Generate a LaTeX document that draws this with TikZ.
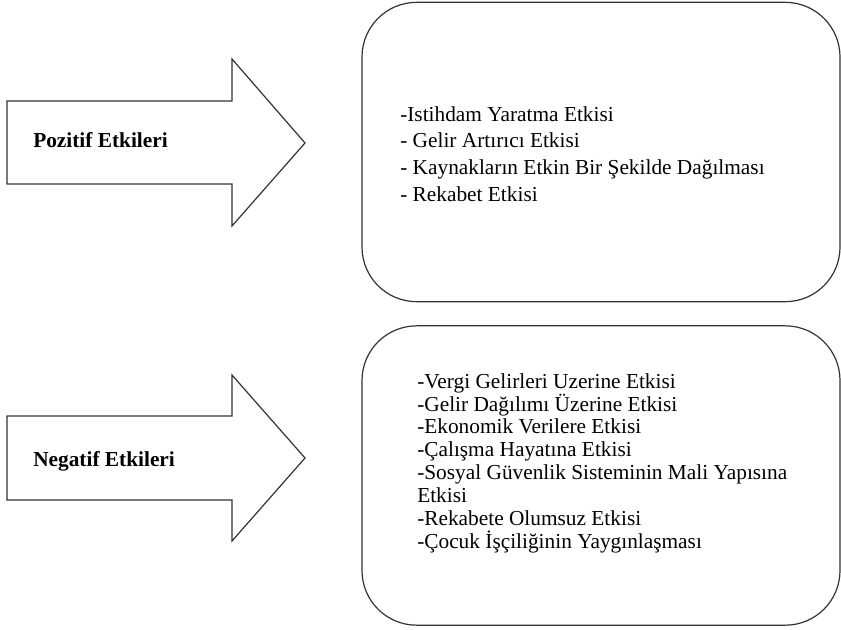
\documentclass[tikz,border=0pt]{standalone}
\usepackage{fontspec}
\setmainfont{Liberation Serif}
\usepackage{tikz}
\usetikzlibrary{arrows.meta,positioning}

\begin{document}
\begin{tikzpicture}[
  x=0.75pt, y=-0.75pt,
  box/.style={rectangle, rounded corners=41pt, draw=black!80, line width=0.9pt,
              minimum width=358.5pt, minimum height=224.5pt},
  bigarrow/.style={draw=black!80, line width=0.9pt, fill=white, line join=miter},
  heading/.style={font=\fontsize{16}{19}\selectfont\bfseries, inner sep=0pt, anchor=base west},
  items/.style={align=left, inner sep=0pt, anchor=north west}
]
\useasboundingbox (0,0) rectangle (841,629);

% right-hand boxes
\node[box] (Pos) at (601,152) {};
\node[box] (Neg) at (601,475.5) {};

% block arrows
\draw[bigarrow] (7,101) -- (232,101) -- (232,59) -- (305,143) -- (232,226) -- (232,184) -- (7,184) -- cycle;
\draw[bigarrow] (7,416) -- (232,416) -- (232,375) -- (305,458) -- (232,541) -- (232,500) -- (7,500) -- cycle;

\node[heading] (PosLbl) at (33,147) {Pozitif Etkileri};
\node[heading] (NegLbl) at (33,466) {Negatif Etkileri};

% effect lists
\node[items, font=\fontsize{16}{20}\selectfont] (PosList) at (400,106)
  {-Istihdam Yaratma Etkisi\\- Gelir Artırıcı Etkisi\\- Kaynakların Etkin Bir Şekilde Dağılması\\- Rekabet Etkisi};
\node[items, font=\fontsize{16}{17.2}\selectfont] (NegList) at (417,373)
  {-Vergi Gelirleri Uzerine Etkisi\\-Gelir Dağılımı Üzerine Etkisi\\-Ekonomik Verilere Etkisi\\-Çalışma Hayatına Etkisi\\-Sosyal Güvenlik Sisteminin Mali Yapısına\\Etkisi\\-Rekabete Olumsuz Etkisi\\-Çocuk İşçiliğinin Yaygınlaşması};

\end{tikzpicture}
\end{document}
